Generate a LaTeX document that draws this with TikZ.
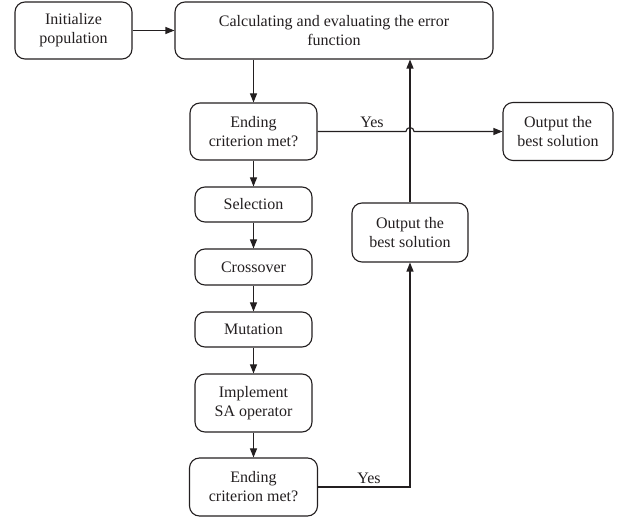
\documentclass[tikz,border=0pt]{standalone}
\usepackage{fontspec}
\setmainfont{Liberation Serif}
\usepackage{tikz}
\usepackage{xcolor}
\usetikzlibrary{calc,arrows.meta}
\definecolor{linecolorc}{HTML}{231F20}
\colorlet{linecolor}{linecolorc}
\tikzstyle{flowbox} = [
    draw=linecolor,
    line width=1.1pt,
    rectangle,
    rounded corners=10pt,
    inner sep=0pt,
    align=center,
    text=linecolor,
    font=\fontsize{16}{19}\selectfont
    ]
\tikzstyle{flowarrow} = [
    draw=linecolor,
    line width=1.1pt,
    -{Triangle[length=9pt,width=7pt]}
    ]
\tikzstyle{flowlabel} = [
    text=linecolor,
    font=\fontsize{16}{19}\selectfont,
    anchor=south,
    inner sep=1pt
    ]

\begin{document}
\begin{tikzpicture}[x=1pt,y=1pt]
\useasboundingbox (0,0) rectangle (633,-518);
\node[flowbox, minimum width=117pt, minimum height=57pt] (init) at (73.5,-30.5) {Initialize\\population};
\node[flowbox, minimum width=318pt, minimum height=57pt] (calc) at (334,-30.5) {Calculating and evaluating the error\\function};
\node[flowbox, minimum width=127pt, minimum height=57pt] (endone) at (253.5,-131.5) {Ending\\criterion met?};
\node[flowbox, minimum width=110pt, minimum height=58pt] (outone) at (558,-131.5) {Output the\\best solution};
\node[flowbox, minimum width=117pt, minimum height=35pt] (select) at (253.5,-204.5) {Selection};
\node[flowbox, minimum width=117pt, minimum height=36pt] (cross) at (253.5,-267) {Crossover};
\node[flowbox, minimum width=117pt, minimum height=35pt] (mutate) at (253.5,-329.5) {Mutation};
\node[flowbox, minimum width=117pt, minimum height=58pt] (saop) at (253.5,-403) {Implement\\SA operator};
\node[flowbox, minimum width=128pt, minimum height=58pt] (endtwo) at (253.5,-487) {Ending\\criterion met?};
\node[flowbox, minimum width=116pt, minimum height=59pt] (outtwo) at (410,-232.5) {Output the\\best solution};

\draw[flowarrow] (init) -- (calc);
\draw[flowarrow] (calc.south -| endone.north) -- (endone);
\draw[flowarrow] (endone) -- (select);
\draw[flowarrow] (select) -- (cross);
\draw[flowarrow] (cross) -- (mutate);
\draw[flowarrow] (mutate) -- (saop);
\draw[flowarrow] (saop) -- (endtwo);
\draw[flowarrow] (outtwo) -- (outtwo.north |- calc.south);
\draw[flowarrow] (endtwo.east) -- (outtwo.south |- endtwo.east) -- (outtwo.south);
% jump over the vertical line
\draw[flowarrow] (endone.east) -- ($(outtwo.north |- endone.east)+(-4,0)$)
    arc[start angle=180, end angle=0, radius=4pt] -- (outone.west);

\node[flowlabel] (yesone) at (372,-129) {Yes};
\node[flowlabel] (yestwo) at (369,-485) {Yes};
\end{tikzpicture}
\end{document}
